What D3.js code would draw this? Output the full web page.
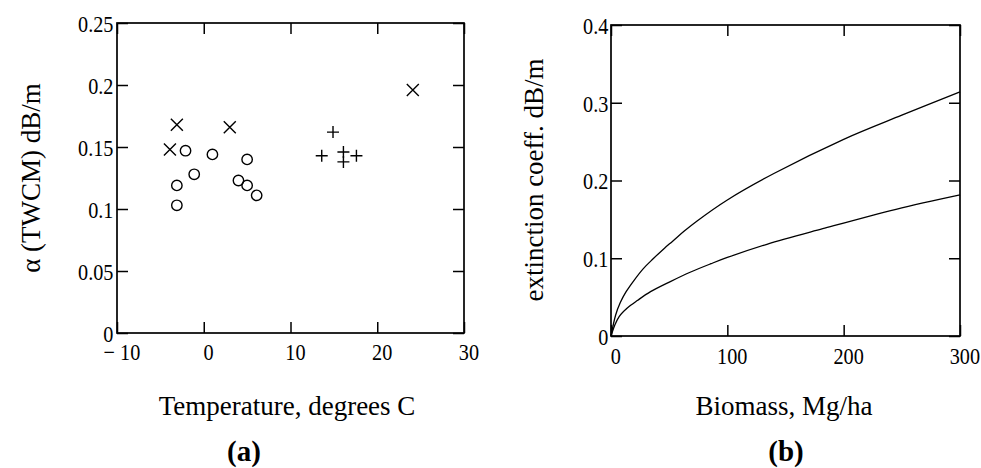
<!DOCTYPE html>
<html>
<head>
<meta charset="utf-8">
<script src="https://cdn.jsdelivr.net/npm/d3@7"></script>
<style>
    body { margin: 0; background: #fff; }
    svg { display: block; }
    .tick text { font-family: "Liberation Serif", "Times New Roman", serif; font-size: 23px; fill: #000; }
    .tick line { stroke: #000; stroke-width: 1.5px; }
    .title { font-family: "Liberation Serif", "Times New Roman", serif; font-size: 27px; fill: #000; }
    .panel { font-family: "Liberation Serif", "Times New Roman", serif; font-size: 29px; font-weight: bold; fill: #000; }
</style>
</head>
<body>
<div id="chart"></div>
<script>
// Panel (a): alpha vs temperature, three marker groups
let crossTemp = [-3.9, -3.1, 3.0, 24.1];
let crossAlpha = [0.148, 0.168, 0.166, 0.196];
let circleTemp = [-2.1, -3.1, -3.1, -1.1, 1.0, 5.0, 4.0, 5.0, 6.1];
let circleAlpha = [0.147, 0.119, 0.103, 0.128, 0.144, 0.140, 0.123, 0.119, 0.111];
let plusTemp = [14.9, 13.6, 16.1, 16.1, 17.6];
let plusAlpha = [0.162, 0.143, 0.146, 0.138, 0.143];
let tempTicks = [-10, 0, 10, 20, 30];
let alphaTicks = [0, 0.05, 0.1, 0.15, 0.2, 0.25];

// Panel (b): extinction coefficient vs biomass, two curves
let upperBiomass = [0, 4, 8, 13, 20, 28, 36, 46, 53, 63, 74, 100, 140, 200, 250, 300];
let upperCoeff = [0, 0.027, 0.043, 0.057, 0.072, 0.087, 0.099, 0.113, 0.122, 0.135, 0.148, 0.175, 0.209, 0.253, 0.284, 0.314];
let lowerBiomass = [0, 3, 7, 14, 23, 34, 51, 68, 86, 100, 134, 182, 245, 300];
let lowerCoeff = [0, 0.013, 0.025, 0.036, 0.046, 0.057, 0.070, 0.082, 0.093, 0.101, 0.118, 0.138, 0.163, 0.1815];
let biomassTicks = [0, 100, 200, 300];
let coeffTicks = [0, 0.1, 0.2, 0.3, 0.4];

let svgWidth = 981;
let svgHeight = 468;

let svg = d3.select("#chart")
    .append("svg")
    .attr("width", svgWidth)
    .attr("height", svgHeight);

// Mathcad style: "− 10" for negatives
function fmt(d) {
    if (d < 0) return "\u2212 " + Math.abs(d);
    return String(+d.toFixed(3));
}

// Draws a framed box with inward ticks on all four sides
function drawFrame(g, x, y, xTicks, yTicks, xPad, yPad) {
    let tick = 11;
    let x0 = x.range()[0], x1 = x.range()[1];
    let y0 = y.range()[0], y1 = y.range()[1];

    let bottom = g.append("g")
        .attr("transform", `translate(0, ${y0})`)
        .call(d3.axisBottom(x).tickValues(xTicks).tickSizeInner(-tick).tickSizeOuter(0).tickPadding(xPad).tickFormat(fmt));
    // narrow the digits a little, like the original
    bottom.selectAll("text").attr("x", 5).attr("transform", "scale(0.88,1)");

    g.append("g")
        .attr("transform", `translate(0, ${y1})`)
        .call(d3.axisTop(x).tickValues(xTicks).tickSizeInner(-tick).tickSizeOuter(0).tickFormat(""));

    let left = g.append("g")
        .attr("transform", `translate(${x0}, 0)`)
        .call(d3.axisLeft(y).tickValues(yTicks).tickSizeInner(-tick).tickSizeOuter(0).tickPadding(yPad).tickFormat(fmt));
    left.selectAll("text").attr("dy", "0.36em").attr("transform", "scale(0.88,1)");

    g.append("g")
        .attr("transform", `translate(${x1}, 0)`)
        .call(d3.axisRight(y).tickValues(yTicks).tickSizeInner(-tick).tickSizeOuter(0).tickFormat(""));

    g.selectAll(".domain").remove();

    g.append("rect")
        .attr("x", x0)
        .attr("y", y1)
        .attr("width", x1 - x0)
        .attr("height", y0 - y1)
        .attr("fill", "none")
        .attr("stroke", "#000")
        .attr("stroke-width", 1.7);
}

// ---------- Panel (a) ----------
let xA = d3.scaleLinear().domain([-10, 30]).range([117, 464]);
let yA = d3.scaleLinear().domain([0, 0.25]).range([333, 23]);
let gA = svg.append("g");
drawFrame(gA, xA, yA, tempTicks, alphaTicks, 11, 4);

let markStyle = sel => sel.attr("fill", "none").attr("stroke", "#000").attr("stroke-width", 1.4);

gA.selectAll(".cross")
    .data(d3.zip(crossTemp, crossAlpha))
    .enter()
    .append("path")
    .attr("class", "cross")
    .attr("transform", d => `translate(${xA(d[0])}, ${yA(d[1])})`)
    .attr("d", "M-6,-6L6,6M-6,6L6,-6")
    .call(markStyle);

gA.selectAll(".ring")
    .data(d3.zip(circleTemp, circleAlpha))
    .enter()
    .append("circle")
    .attr("class", "ring")
    .attr("cx", d => xA(d[0]))
    .attr("cy", d => yA(d[1]))
    .attr("r", 5.2)
    .call(markStyle);

gA.selectAll(".plus")
    .data(d3.zip(plusTemp, plusAlpha))
    .enter()
    .append("path")
    .attr("class", "plus")
    .attr("transform", d => `translate(${xA(d[0])}, ${yA(d[1])})`)
    .attr("d", "M-6,0L6,0M0,-6L0,6")
    .call(markStyle);

gA.append("text")
    .attr("class", "title")
    .attr("x", 287)
    .attr("y", 415)
    .attr("text-anchor", "middle")
    .text("Temperature, degrees C");

gA.append("text")
    .attr("class", "title")
    .attr("transform", "translate(40, 178) rotate(-90)")
    .attr("text-anchor", "middle")
    .text("\u03b1 (TWCM) dB/m");

gA.append("text")
    .attr("class", "panel")
    .attr("x", 244)
    .attr("y", 461)
    .attr("text-anchor", "middle")
    .text("(a)");

// ---------- Panel (b) ----------
let xB = d3.scaleLinear().domain([0, 300]).range([611, 960]);
let yB = d3.scaleLinear().domain([0, 0.4]).range([336, 25]);
let gB = svg.append("g");
drawFrame(gB, xB, yB, biomassTicks, coeffTicks, 12, 3);

let line = d3.line()
    .x(d => xB(d[0]))
    .y(d => yB(d[1]))
    .curve(d3.curveCatmullRom.alpha(0.5));

[d3.zip(upperBiomass, upperCoeff), d3.zip(lowerBiomass, lowerCoeff)].forEach(function (pts) {
    gB.append("path")
        .datum(pts)
        .attr("d", line)
        .attr("fill", "none")
        .attr("stroke", "#000")
        .attr("stroke-width", 1.3);
});

gB.append("text")
    .attr("class", "title")
    .attr("x", 784)
    .attr("y", 415)
    .attr("text-anchor", "middle")
    .text("Biomass, Mg/ha");

gB.append("text")
    .attr("class", "title")
    .attr("transform", "translate(543, 180) rotate(-90)")
    .attr("text-anchor", "middle")
    .text("extinction coeff. dB/m");

gB.append("text")
    .attr("class", "panel")
    .attr("x", 786)
    .attr("y", 461)
    .attr("text-anchor", "middle")
    .text("(b)");
</script>
</body>
</html>
